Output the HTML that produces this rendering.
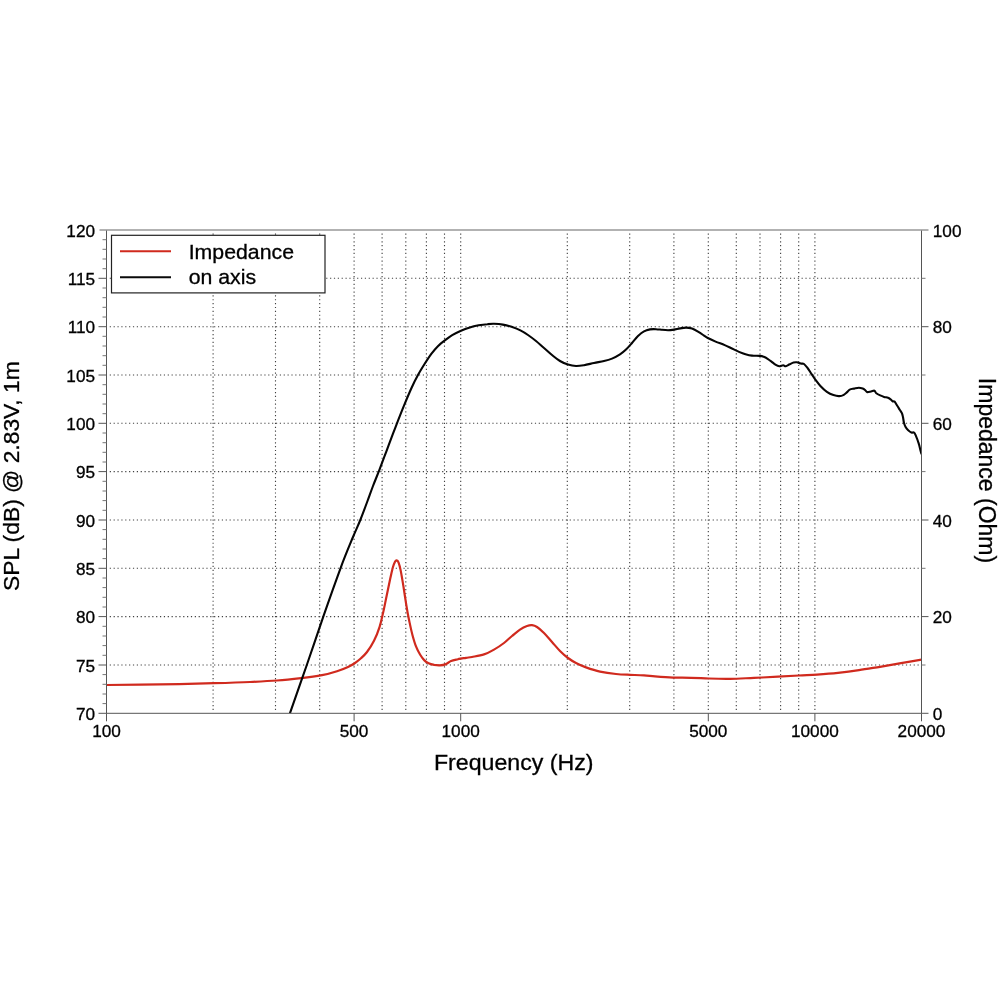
<!DOCTYPE html>
<html lang="en"><head><meta charset="utf-8"><title>Frequency response</title>
<style>html,body{margin:0;padding:0;background:#fff}body{width:1000px;height:1000px;overflow:hidden}svg{display:block}text{font-family:"Liberation Sans",Arial,Helvetica,sans-serif;fill:#000;stroke:#000;stroke-width:0.3px}</style></head><body>
<svg width="1000" height="1000" viewBox="0 0 1000 1000">
<rect width="1000" height="1000" fill="#fff"/>
<g stroke="#414141" stroke-width="1.12" stroke-dasharray="1.2 2.665" fill="none">
<path d="M109.74,665.0 H920.5"/>
<path d="M109.74,616.6 H920.5"/>
<path d="M109.74,568.3 H920.5"/>
<path d="M109.74,520.0 H920.5"/>
<path d="M109.74,471.6 H920.5"/>
<path d="M109.74,423.3 H920.5"/>
<path d="M109.74,375.0 H920.5"/>
<path d="M109.74,326.7 H920.5"/>
<path d="M109.74,278.3 H920.5"/>
<path d="M213.1,710.06 V231.6"/>
<path d="M275.5,710.06 V231.6"/>
<path d="M319.7,710.06 V231.6"/>
<path d="M354.1,710.06 V231.6"/>
<path d="M382.1,710.06 V231.6"/>
<path d="M405.8,710.06 V231.6"/>
<path d="M426.4,710.06 V231.6"/>
<path d="M444.5,710.06 V231.6"/>
<path d="M460.7,710.06 V231.6"/>
<path d="M567.3,710.06 V231.6"/>
<path d="M629.7,710.06 V231.6"/>
<path d="M673.9,710.06 V231.6"/>
<path d="M708.3,710.06 V231.6"/>
<path d="M736.3,710.06 V231.6"/>
<path d="M760.0,710.06 V231.6"/>
<path d="M780.6,710.06 V231.6"/>
<path d="M798.7,710.06 V231.6"/>
<path d="M814.9,710.06 V231.6"/>
</g>
<clipPath id="c"><rect x="106.5" y="230.0" width="815.0" height="483.29999999999995"/></clipPath>
<path d="M106.6,685.0 C115.5,684.9 142.1,684.7 160.0,684.4 C177.9,684.1 199.0,683.6 214.0,683.2 C229.0,682.8 239.5,682.5 250.0,682.0 C260.5,681.5 268.5,681.1 277.0,680.5 C285.5,679.9 293.5,679.0 301.0,678.1 C308.5,677.2 316.0,676.2 322.0,675.1 C328.0,674.0 332.7,672.6 337.0,671.2 C341.3,669.9 345.0,668.4 348.0,667.0 C351.0,665.6 352.8,664.5 355.0,663.0 C357.2,661.5 359.0,660.1 361.0,658.3 C363.0,656.5 364.8,654.9 367.0,652.0 C369.2,649.1 371.9,645.0 374.0,640.8 C376.1,636.6 378.1,631.5 379.6,626.8 C381.1,622.1 381.9,617.9 383.1,612.8 C384.3,607.7 385.4,601.6 386.6,596.0 C387.8,590.4 389.1,584.0 390.1,579.2 C391.2,574.4 392.1,570.2 392.9,567.3 C393.7,564.4 394.4,562.9 395.0,561.7 C395.6,560.5 396.1,560.2 396.7,560.3 C397.3,560.4 397.9,560.8 398.5,562.4 C399.1,564.0 399.8,566.1 400.6,570.1 C401.4,574.1 402.5,580.5 403.4,586.2 C404.3,591.9 405.3,598.8 406.2,604.4 C407.1,610.0 407.9,614.7 409.0,619.8 C410.1,624.9 411.3,630.8 412.5,635.2 C413.7,639.6 414.7,643.1 416.0,646.4 C417.3,649.7 418.8,652.5 420.2,654.8 C421.6,657.1 423.0,659.0 424.4,660.4 C425.8,661.8 427.0,662.5 428.6,663.2 C430.2,664.0 432.3,664.5 434.2,664.9 C436.1,665.2 437.9,665.4 439.8,665.3 C441.7,665.2 443.5,665.1 445.4,664.4 C447.3,663.7 448.9,662.0 451.0,661.1 C453.1,660.2 455.5,659.8 458.0,659.2 C460.5,658.7 463.7,658.2 466.0,657.8 C468.3,657.4 469.0,657.6 472.0,657.0 C475.0,656.4 480.3,655.6 484.0,654.4 C487.7,653.2 490.7,651.5 494.0,649.6 C497.3,647.7 501.0,645.3 504.0,643.0 C507.0,640.7 509.3,638.2 512.0,636.0 C514.7,633.8 517.5,631.3 520.0,629.6 C522.5,627.9 525.0,626.7 527.0,626.0 C529.0,625.3 530.3,625.0 532.0,625.2 C533.7,625.4 535.0,625.7 537.0,627.0 C539.0,628.3 541.5,630.5 544.0,633.0 C546.5,635.5 549.3,639.0 552.0,642.0 C554.7,645.0 557.3,648.3 560.0,651.0 C562.7,653.7 565.3,656.0 568.0,658.0 C570.7,660.0 573.0,661.4 576.0,663.0 C579.0,664.6 582.0,666.0 586.0,667.4 C590.0,668.8 595.0,670.5 600.0,671.6 C605.0,672.7 611.0,673.5 616.0,674.0 C621.0,674.5 625.3,674.6 630.0,674.8 C634.7,675.0 639.8,675.1 644.0,675.4 C648.2,675.7 650.2,676.0 655.0,676.4 C659.8,676.8 667.0,677.4 673.0,677.6 C679.0,677.8 685.0,677.6 691.0,677.8 C697.0,677.9 702.5,678.3 709.0,678.5 C715.5,678.7 722.5,678.9 730.0,678.8 C737.5,678.7 746.0,678.2 754.0,677.9 C762.0,677.5 770.5,677.1 778.0,676.7 C785.5,676.3 792.5,675.9 799.0,675.5 C805.5,675.1 810.5,675.1 817.0,674.6 C823.5,674.1 831.0,673.5 838.0,672.8 C845.0,672.0 852.0,671.1 859.0,670.1 C866.0,669.1 873.0,667.9 880.0,666.8 C887.0,665.6 894.1,664.4 901.0,663.2 C907.9,662.0 918.1,660.2 921.5,659.6" stroke="#d02a1e" stroke-width="2.2" fill="none" stroke-linejoin="round" clip-path="url(#c)"/>
<path d="M289.9,713.3 C292.7,705.2 301.2,681.1 306.8,665.0 C312.4,648.9 317.7,632.7 323.3,616.6 C328.9,600.5 335.6,581.6 340.5,568.3 C345.4,555.0 349.7,545.0 353.0,537.0 C356.3,529.0 357.9,526.0 360.3,520.0 C362.7,514.0 365.4,506.7 367.5,501.0 C369.6,495.3 371.0,491.3 373.0,486.0 C375.0,480.7 377.4,475.1 379.6,469.4 C381.8,463.7 384.0,457.7 386.2,451.8 C388.4,445.9 390.8,439.5 392.8,434.2 C394.8,428.9 396.3,425.0 398.3,419.9 C400.3,414.8 402.7,408.7 404.9,403.4 C407.1,398.1 409.3,392.8 411.5,388.0 C413.7,383.2 415.9,378.8 418.1,374.8 C420.3,370.8 422.5,367.3 424.7,363.8 C426.9,360.3 429.1,356.8 431.3,353.9 C433.5,351.0 435.7,348.4 437.9,346.2 C440.1,344.0 442.1,342.5 444.5,340.7 C446.9,338.9 449.4,336.8 452.2,335.2 C454.9,333.6 458.1,332.1 461.0,330.8 C463.9,329.5 466.9,328.4 469.8,327.5 C472.7,326.6 475.7,325.9 478.6,325.3 C481.5,324.8 484.8,324.4 487.4,324.2 C490.0,323.9 491.4,323.7 494.0,323.8 C496.6,323.9 499.9,324.1 502.8,324.6 C505.7,325.1 508.7,325.8 511.6,326.8 C514.5,327.8 517.7,329.0 520.4,330.4 C523.1,331.8 525.4,333.2 528.0,335.0 C530.6,336.8 533.3,338.8 536.0,341.0 C538.7,343.2 541.3,345.7 544.0,348.0 C546.7,350.3 549.3,352.8 552.0,355.0 C554.7,357.2 557.3,359.4 560.0,361.0 C562.7,362.6 565.3,363.8 568.0,364.6 C570.7,365.4 573.3,365.9 576.0,366.0 C578.7,366.1 581.0,365.7 584.0,365.2 C587.0,364.7 590.7,363.7 594.0,363.0 C597.3,362.3 601.0,361.7 604.0,361.0 C607.0,360.3 609.3,359.7 612.0,358.6 C614.7,357.5 617.7,355.9 620.0,354.4 C622.3,352.9 624.0,351.5 626.0,349.6 C628.0,347.7 630.0,345.3 632.0,343.0 C634.0,340.7 636.0,337.9 638.0,336.0 C640.0,334.1 642.0,332.5 644.0,331.4 C646.0,330.3 648.0,329.8 650.0,329.4 C652.0,329.0 654.0,329.1 656.0,329.2 C658.0,329.3 660.0,329.6 662.0,329.8 C664.0,330.0 666.0,330.2 668.0,330.2 C670.0,330.2 672.0,329.9 674.0,329.6 C676.0,329.3 678.0,328.7 680.0,328.4 C682.0,328.1 684.0,327.6 686.0,327.6 C688.0,327.6 690.0,327.9 692.0,328.6 C694.0,329.3 696.0,330.4 698.0,331.6 C700.0,332.8 702.4,334.5 704.0,335.6 C705.6,336.7 705.9,337.0 707.8,338.0 C709.7,339.0 712.8,340.4 715.6,341.6 C718.4,342.8 721.9,343.9 724.7,345.1 C727.5,346.3 730.1,347.6 732.5,348.7 C734.9,349.8 736.8,351.0 739.0,351.9 C741.2,352.8 743.3,353.6 745.5,354.2 C747.7,354.8 749.6,355.3 752.0,355.6 C754.4,355.9 757.8,355.7 759.8,355.9 C761.8,356.1 762.4,356.3 763.7,356.8 C765.0,357.3 766.3,358.0 767.6,358.8 C768.9,359.6 770.2,360.6 771.5,361.6 C772.8,362.6 774.1,363.8 775.4,364.6 C776.7,365.4 778.0,366.1 779.3,366.2 C780.6,366.3 782.1,365.3 783.2,365.3 C784.3,365.3 784.7,366.5 785.8,366.3 C786.9,366.1 788.4,364.9 789.7,364.3 C791.0,363.7 792.4,362.8 793.6,362.5 C794.8,362.2 795.7,362.1 796.9,362.3 C798.1,362.5 799.6,363.3 800.8,363.6 C802.0,363.9 802.8,363.2 804.0,364.0 C805.2,364.8 806.6,366.8 807.9,368.5 C809.2,370.2 810.5,372.5 811.8,374.4 C813.1,376.3 814.1,377.9 815.5,379.8 C816.9,381.7 818.5,384.0 820.4,386.0 C822.3,388.0 824.7,390.4 826.9,391.9 C829.1,393.4 831.3,394.4 833.4,395.1 C835.5,395.8 837.6,396.2 839.3,396.1 C841.0,396.1 842.5,395.5 843.8,394.8 C845.1,394.1 846.1,393.0 847.1,392.1 C848.1,391.2 848.5,390.2 849.7,389.6 C850.9,389.0 852.7,388.9 854.2,388.6 C855.7,388.3 857.4,387.8 858.8,387.8 C860.2,387.8 861.6,388.2 862.7,388.6 C863.8,389.0 864.5,389.6 865.3,390.2 C866.0,390.8 866.2,391.9 867.2,392.1 C868.2,392.3 869.9,391.7 871.1,391.5 C872.3,391.3 873.5,390.4 874.4,390.7 C875.3,391.0 875.3,392.4 876.3,393.2 C877.3,394.0 878.9,394.8 880.2,395.4 C881.5,396.0 882.8,396.5 884.1,396.9 C885.4,397.3 886.9,397.3 888.0,397.7 C889.1,398.1 889.8,398.7 890.6,399.3 C891.4,399.9 892.0,400.9 892.6,401.3 C893.2,401.7 893.8,400.9 894.5,401.6 C895.2,402.3 896.2,404.1 897.1,405.5 C898.0,406.9 898.9,408.4 899.7,409.7 C900.5,411.0 901.5,412.1 902.0,413.3 C902.5,414.6 902.7,415.7 903.0,417.2 C903.3,418.7 903.5,420.8 903.9,422.4 C904.3,424.0 904.9,425.7 905.6,427.0 C906.3,428.3 907.2,429.3 908.2,430.2 C909.2,431.1 910.4,432.1 911.4,432.5 C912.4,432.9 913.2,431.9 914.0,432.5 C914.8,433.1 915.2,434.3 916.0,436.1 C916.8,437.9 917.9,440.8 918.6,443.2 C919.4,445.6 920.0,448.5 920.5,450.4 C921.0,452.2 921.3,453.6 921.5,454.3" stroke="#050505" stroke-width="2.1" fill="none" stroke-linejoin="round" clip-path="url(#c)"/>
<g stroke="#555" stroke-width="1" fill="none">
<path d="M106.5,230.0 V713.3 H921.5 V230.0"/>
</g>
<path d="M99.5,230.0 H928.5" stroke="#999" stroke-width="1.4" fill="none"/>
<g stroke="#777" stroke-width="1" fill="none">
<path d="M98.5,713.3 H106.5" stroke="#555"/>
<path d="M102.5,703.6 H106.5"/>
<path d="M102.5,694.0 H106.5"/>
<path d="M102.5,684.3 H106.5"/>
<path d="M102.5,674.6 H106.5"/>
<path d="M98.5,665.0 H106.5" stroke="#555"/>
<path d="M102.5,655.3 H106.5"/>
<path d="M102.5,645.6 H106.5"/>
<path d="M102.5,636.0 H106.5"/>
<path d="M102.5,626.3 H106.5"/>
<path d="M98.5,616.6 H106.5" stroke="#555"/>
<path d="M102.5,607.0 H106.5"/>
<path d="M102.5,597.3 H106.5"/>
<path d="M102.5,587.6 H106.5"/>
<path d="M102.5,578.0 H106.5"/>
<path d="M98.5,568.3 H106.5" stroke="#555"/>
<path d="M102.5,558.6 H106.5"/>
<path d="M102.5,549.0 H106.5"/>
<path d="M102.5,539.3 H106.5"/>
<path d="M102.5,529.6 H106.5"/>
<path d="M98.5,520.0 H106.5" stroke="#555"/>
<path d="M102.5,510.3 H106.5"/>
<path d="M102.5,500.6 H106.5"/>
<path d="M102.5,491.0 H106.5"/>
<path d="M102.5,481.3 H106.5"/>
<path d="M98.5,471.6 H106.5" stroke="#555"/>
<path d="M102.5,462.0 H106.5"/>
<path d="M102.5,452.3 H106.5"/>
<path d="M102.5,442.7 H106.5"/>
<path d="M102.5,433.0 H106.5"/>
<path d="M98.5,423.3 H106.5" stroke="#555"/>
<path d="M102.5,413.7 H106.5"/>
<path d="M102.5,404.0 H106.5"/>
<path d="M102.5,394.3 H106.5"/>
<path d="M102.5,384.7 H106.5"/>
<path d="M98.5,375.0 H106.5" stroke="#555"/>
<path d="M102.5,365.3 H106.5"/>
<path d="M102.5,355.7 H106.5"/>
<path d="M102.5,346.0 H106.5"/>
<path d="M102.5,336.3 H106.5"/>
<path d="M98.5,326.7 H106.5" stroke="#555"/>
<path d="M102.5,317.0 H106.5"/>
<path d="M102.5,307.3 H106.5"/>
<path d="M102.5,297.7 H106.5"/>
<path d="M102.5,288.0 H106.5"/>
<path d="M98.5,278.3 H106.5" stroke="#555"/>
<path d="M102.5,268.7 H106.5"/>
<path d="M102.5,259.0 H106.5"/>
<path d="M102.5,249.3 H106.5"/>
<path d="M102.5,239.7 H106.5"/>
<path d="M921.5,713.3 H928.5" stroke="#555"/>
<path d="M921.5,665.0 H925.5"/>
<path d="M921.5,616.6 H928.5" stroke="#555"/>
<path d="M921.5,568.3 H925.5"/>
<path d="M921.5,520.0 H928.5" stroke="#555"/>
<path d="M921.5,471.6 H925.5"/>
<path d="M921.5,423.3 H928.5" stroke="#555"/>
<path d="M921.5,375.0 H925.5"/>
<path d="M921.5,326.7 H928.5" stroke="#555"/>
<path d="M921.5,278.3 H925.5"/>
<path d="M106.5,713.3 V721.3" stroke="#555"/>
<path d="M354.1,713.3 V721.3" stroke="#555"/>
<path d="M460.7,713.3 V721.3" stroke="#555"/>
<path d="M708.3,713.3 V721.3" stroke="#555"/>
<path d="M814.9,713.3 V721.3" stroke="#555"/>
<path d="M921.5,713.3 V721.3" stroke="#555"/>
</g>
<rect x="111.5" y="235.3" width="213.5" height="57.6" fill="#fff" stroke="#222" stroke-width="1.2"/>
<path d="M120,251.2 H171" stroke="#d02a1e" stroke-width="2.0"/>
<path d="M120,277.2 H171" stroke="#0a0a0a" stroke-width="2.0"/>
<text transform="translate(188.7,258.6) scale(1.075,1)" font-size="19.8">Impedance</text>
<text transform="translate(188.7,284.1) scale(1.075,1)" font-size="19.8">on axis</text>
<text x="95.05" y="719.8" font-size="17.2" text-anchor="end">70</text>
<text x="95.05" y="671.5" font-size="17.2" text-anchor="end">75</text>
<text x="95.05" y="623.1" font-size="17.2" text-anchor="end">80</text>
<text x="95.05" y="574.8" font-size="17.2" text-anchor="end">85</text>
<text x="95.05" y="526.5" font-size="17.2" text-anchor="end">90</text>
<text x="95.05" y="478.1" font-size="17.2" text-anchor="end">95</text>
<text x="95.05" y="429.8" font-size="17.2" text-anchor="end">100</text>
<text x="95.05" y="381.5" font-size="17.2" text-anchor="end">105</text>
<text x="95.05" y="333.2" font-size="17.2" text-anchor="end">110</text>
<text x="95.05" y="284.8" font-size="17.2" text-anchor="end">115</text>
<text x="95.05" y="236.5" font-size="17.2" text-anchor="end">120</text>
<text x="932.8" y="719.8" font-size="17.2">0</text>
<text x="932.8" y="623.1" font-size="17.2">20</text>
<text x="932.8" y="526.5" font-size="17.2">40</text>
<text x="932.8" y="429.8" font-size="17.2">60</text>
<text x="932.8" y="333.2" font-size="17.2">80</text>
<text x="932.8" y="236.5" font-size="17.2">100</text>
<text x="106.5" y="737.4" font-size="17.2" text-anchor="middle">100</text>
<text x="354.1" y="737.4" font-size="17.2" text-anchor="middle">500</text>
<text x="460.7" y="737.4" font-size="17.2" text-anchor="middle">1000</text>
<text x="708.3" y="737.4" font-size="17.2" text-anchor="middle">5000</text>
<text x="814.9" y="737.4" font-size="17.2" text-anchor="middle">10000</text>
<text x="921.5" y="737.4" font-size="17.2" text-anchor="middle">20000</text>
<text transform="translate(513.7,770) scale(1.06,1)" font-size="21.85" text-anchor="middle">Frequency (Hz)</text>
<text transform="translate(19.2,476.2) rotate(-90)" font-size="22.85" text-anchor="middle">SPL (dB) @ 2.83V, 1m</text>
<text transform="translate(979.3,470.5) rotate(90)" font-size="23" text-anchor="middle">Impedance (Ohm)</text>
</svg></body></html>
